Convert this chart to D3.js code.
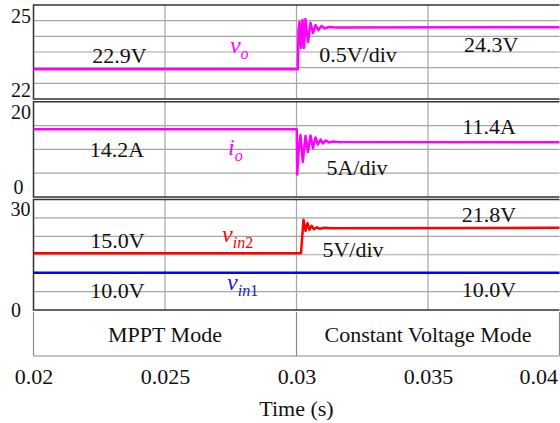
<!DOCTYPE html>
<html>
<head>
<meta charset="utf-8">
<script src="https://cdn.jsdelivr.net/npm/d3@7"></script>
<style>
  body { margin: 0; background: #fff; }
  svg { display: block; }
</style>
</head>
<body>
<div id="chart"></div>
<script>
// time axis
const timeTicks = [0.02, 0.025, 0.03, 0.035, 0.04];
const timeLabels = ["0.02", "0.025", "0.03", "0.035", "0.04"];
const modeNames = ["MPPT Mode", "Constant Voltage Mode"];
const modeBounds = [0.02, 0.03, 0.04];

// output voltage vo (V)
const voTime = [0.02, 0.03005, 0.030076, 0.030114, 0.030171, 0.030228, 0.030285, 0.030342, 0.030437,
  0.030532, 0.030627, 0.030722, 0.030837, 0.030951, 0.031084, 0.031236, 0.031464, 0.04];
const voValue = [22.95, 22.95, 24.2, 24.46, 23.63, 24.52, 23.63, 24.55, 23.82,
  24.43, 24.11, 24.36, 24.2, 24.33, 24.25, 24.3, 24.28, 24.29];

// output current io (A)
const ioTime = [0.02, 0.030011, 0.030027, 0.030076, 0.030152, 0.03024, 0.030342, 0.030437, 0.030532,
  0.030627, 0.030722, 0.030817, 0.030913, 0.031008, 0.031122, 0.031236, 0.031388, 0.031578, 0.04];
const ioValue = [14.2, 14.2, 4.72, 9.44, 13.0, 7.35, 12.8, 9.44, 12.9,
  10.28, 12.49, 11.02, 12.07, 11.23, 11.86, 11.44, 11.65, 11.54, 11.5];

// input voltages vin2, vin1 (V)
const vin2Time = [0.02, 0.030171, 0.030209, 0.030266, 0.030342, 0.030418, 0.030494, 0.03057,
  0.030665, 0.030779, 0.030894, 0.031046, 0.031274, 0.04];
const vin2Value = [15.4, 15.4, 19.05, 24.49, 21.5, 23.54, 21.77, 22.86,
  21.9, 22.45, 22.04, 22.31, 22.18, 22.3];
const vin1Time = [0.02, 0.04];
const vin1Value = [10.1, 10.1];

const W = 560, H = 423;
const FONT = "'Liberation Serif', 'Times New Roman', 'DejaVu Serif', serif";
const svg = d3.select("#chart").append("svg").attr("width", W).attr("height", H);
const x = d3.scaleLinear().domain([0.02, 0.04]).range([33.5, 559.5]);

const panels = [
  { top: 5, bottom: 99, domain: [22, 25], step: 0.5 },
  { top: 101.7, bottom: 197, domain: [0, 20], step: 5 },
  { top: 199.5, bottom: 310, domain: [0, 30], step: 5 }
];
panels.forEach(p => { p.y = d3.scaleLinear().domain(p.domain).range([p.bottom, p.top]); });

const gridColor = "#a6a6a6";
const frameColor = "#333";

function text(g, str, px, py, opts = {}) {
  return g.append("text")
    .attr("x", px).attr("y", py)
    .attr("text-anchor", opts.anchor || "middle")
    .attr("font-family", FONT)
    .attr("font-size", opts.size || 22)
    .attr("fill", opts.color || "#111")
    .text(str);
}

// grids + frames
panels.forEach(p => {
  const g = svg.append("g");
  const hTicks = d3.range(p.domain[0] + p.step, p.domain[1] - 1e-9, p.step);
  g.selectAll(".h").data(hTicks).enter().append("line")
    .attr("x1", x(0.02)).attr("x2", x(0.04))
    .attr("y1", d => p.y(d)).attr("y2", d => p.y(d))
    .attr("stroke", gridColor).attr("stroke-width", 1.2);
  g.selectAll(".v").data(timeTicks.slice(1, -1)).enter().append("line")
    .attr("x1", d => x(d)).attr("x2", d => x(d))
    .attr("y1", p.top).attr("y2", p.bottom)
    .attr("stroke", gridColor).attr("stroke-width", 1.2);
  g.append("path")
    .attr("d", `M${x(0.04)},${p.top}H${x(0.02)}V${p.bottom}H${x(0.04)}`)
    .attr("fill", "none").attr("stroke", frameColor).attr("stroke-width", 1.5);
});

// mode bar
const barTop = panels[2].bottom, barBottom = 356;
svg.selectAll(".mode").data(modeBounds).enter().append("line")
  .attr("x1", d => x(d)).attr("x2", d => x(d))
  .attr("y1", barTop + 2).attr("y2", barBottom)
  .attr("stroke", "#8a8a8a").attr("stroke-width", 1.2);
svg.append("line")
  .attr("x1", x(0.02)).attr("x2", x(0.04))
  .attr("y1", barBottom).attr("y2", barBottom)
  .attr("stroke", "#8a8a8a").attr("stroke-width", 1.2);
modeNames.forEach((m, i) => {
  text(svg, m, (x(modeBounds[i]) + x(modeBounds[i + 1])) / 2, 342);
});

// traces
const traces = [
  { panel: 0, t: voTime, v: voValue, color: "#ff00ff" },
  { panel: 1, t: ioTime, v: ioValue, color: "#ff00ff" },
  { panel: 2, t: vin1Time, v: vin1Value, color: "#0000ff" },
  { panel: 2, t: vin2Time, v: vin2Value, color: "#ff0000" }
];
traces.forEach(tr => {
  const y = panels[tr.panel].y;
  const line = d3.line().x(d => x(d[0])).y(d => y(d[1]));
  svg.append("path")
    .datum(tr.t.map((t, i) => [t, tr.v[i]]))
    .attr("d", line)
    .attr("fill", "none")
    .attr("stroke", tr.color)
    .attr("stroke-width", 2.5)
    .attr("stroke-linejoin", "round");
});

// left value labels
const leftLabels = [
  { panel: 0, value: 25, label: "25", dy: 18, xEnd: 31 },
  { panel: 0, value: 22, label: "22", dy: -2.5, xEnd: 31 },
  { panel: 1, value: 20, label: "20", dy: 17.3, xEnd: 31 },
  { panel: 1, value: 0, label: "0", dy: -3, xEnd: 23.5 },
  { panel: 2, value: 30, label: "30", dy: 16.5, xEnd: 30.5 },
  { panel: 2, value: 0, label: "0", dy: 7, xEnd: 21 }
];
leftLabels.forEach(l => {
  text(svg, l.label, l.xEnd, panels[l.panel].y(l.value) + l.dy, { anchor: "end", size: 20 });
});

// annotations (time, value) in each panel
const notes = [
  { panel: 0, t: 0.02327, v: 23.15, label: "22.9V" },
  { panel: 0, t: 0.03234, v: 23.18, label: "0.5V/div" },
  { panel: 0, t: 0.0374, v: 23.5, label: "24.3V" },
  { panel: 1, t: 0.02317, v: 8.39, label: "14.2A" },
  { panel: 1, t: 0.03732, v: 13.2, label: "11.4A" },
  { panel: 1, t: 0.0323, v: 4.6, label: "5A/div" },
  { panel: 2, t: 0.02319, v: 16.87, label: "15.0V" },
  { panel: 2, t: 0.02319, v: 3.27, label: "10.0V" },
  { panel: 2, t: 0.03732, v: 23.95, label: "21.8V" },
  { panel: 2, t: 0.03215, v: 14.42, label: "5V/div" },
  { panel: 2, t: 0.03732, v: 3.54, label: "10.0V" }
];
notes.forEach(n => text(svg, n.label, x(n.t), panels[n.panel].y(n.v)));

// signal names with subscripts
const names = [
  { panel: 0, t: 0.02747, v: 23.47, main: "v", sub: "o", subUp: "", color: "#ff00ff" },
  { panel: 1, t: 0.0274, v: 8.8, main: "i", sub: "o", subUp: "", color: "#ff00ff" },
  { panel: 2, t: 0.02717, v: 18.5, main: "v", sub: "in", subUp: "2", color: "#ff0000" },
  { panel: 2, t: 0.02736, v: 5.44, main: "v", sub: "in", subUp: "1", color: "#1a1acc" }
];
names.forEach(n => {
  const t = svg.append("text")
    .attr("x", x(n.t)).attr("y", panels[n.panel].y(n.v))
    .attr("font-family", FONT)
    .attr("fill", n.color).attr("font-size", 24);
  t.append("tspan").attr("font-style", "italic").text(n.main);
  t.append("tspan").attr("font-style", "italic").attr("font-size", 16).attr("dy", 6).text(n.sub);
  if (n.subUp) t.append("tspan").attr("font-size", 16).text(n.subUp);
});

// time axis labels
const axis = d3.axisBottom(x).tickValues(timeTicks).tickSize(0).tickPadding(0)
  .tickFormat((d, i) => timeLabels[i]);
const ax = svg.append("g").attr("transform", "translate(0,366)").call(axis)
  .attr("font-family", FONT).attr("font-size", 22);
ax.select(".domain").remove();
ax.selectAll("text")
  .attr("font-family", FONT)
  .attr("font-size", 22).attr("fill", "#111")
  .attr("dy", "0.8em");
ax.selectAll("text").filter((d, i) => i === timeTicks.length - 1)
  .attr("text-anchor", "end").attr("x", -2);

text(svg, "Time (s)", x(0.03), 416);
</script>
</body>
</html>
